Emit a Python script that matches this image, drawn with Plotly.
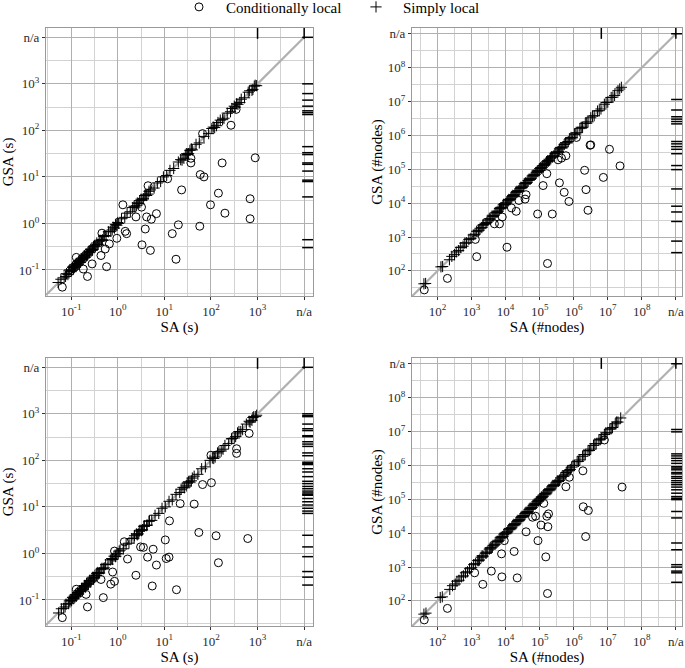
import numpy as np
import plotly.graph_objects as go
from plotly.subplots import make_subplots

# All values below are log10 of the measurement (the axes are log-log).
# "n/a" is drawn at one decade above the largest labelled decade.

# --- top-left: runtime ---------------------------------------------------
p1_cond_sa = [2.43, 2.95, 2.24, 1.57, 1.57, 1.77, 1.85, 1.37, 2.16, 2.84, 1.99, 2.30, 2.84, 1.76,
              1.30, 1.17, 1.25, 0.70, 0.52, 0.59, 0.62, 0.72, 0.83, 0.39, 0.11, 0.51, 0.65, 0.16,
              0.19, -0.02, -0.18, -0.27, -0.36, -0.24, -0.55, -0.65, -0.74, -1.19, -0.34, -0.89,
              1.07, 2.54, 1.82]
p1_cond_gsa = [2.11, 1.41, 1.30, 1.40, 1.30, 1.05, 1.00, 0.72, 0.65, 0.53, 0.40, 0.22, 0.10, -0.06,
               -0.03, -0.22, -0.77, -0.58, -0.46, -0.12, 0.14, 0.09, 0.21, 0.14, 0.40, 0.35, 0.81,
               -0.17, -0.22, -0.32, -0.44, -0.55, -0.69, -0.93, -0.87, -1.14, -0.98, -1.37, -0.21,
               -0.73, 0.96, 2.45, 1.93]
p1_simple_sa = [-1.28, -1.22, -1.15, -1.10, -1.07, -1.03, -1.00, -0.97, -0.95, -0.92, -0.90, -0.88,
                -0.85, -0.83, -0.80, -0.78, -0.75, -0.72, -0.70, -0.68, -0.65, -0.62, -0.60, -0.57,
                -0.55, -0.52, -0.48, -0.45, -0.42, -0.38, -0.35, -0.30, -0.25, -0.20, -0.15, -0.10,
                -0.07, -0.04, -0.02, 0.02, 0.08, 0.15, 0.20, 0.27, 0.32, 0.37, 0.42, 0.45, 0.50,
                0.55, 0.60, 0.65, 0.70, 0.78, 0.85, 0.92, 0.98, 1.05, 1.12, 1.20, 1.30, 1.38, 1.45,
                1.50, 1.55, 1.60, 1.68, 1.75, 1.85, 1.95, 2.05, 2.12, 2.20, 2.28, 2.35, 2.42, 2.50,
                2.58, 2.65, 2.72, 2.80, 2.88, 2.95,
                -1.12, -1.05, -0.99, -0.96, -0.93, -0.91, -0.87, -0.84, -0.81, -0.79, -0.76, -0.73,
                -0.71, -0.67, -0.64, -0.61, -0.58, -0.54, -0.50, -0.44, -0.40, -0.33, -0.28, -0.12,
                -0.05, 0.00, 0.35, 0.40, 0.47, 0.52, 0.58, 0.62, 0.67, 1.35, 1.42, 1.48, 1.52, 1.58,
                2.02, 2.08, 2.15, 2.25, 2.45, 2.52, 2.55, 2.62, 2.83, 2.90, 2.93, 2.98]
p1_simple_gsa = [-1.27, -1.20, -1.17, -1.08, -1.10, -1.00, -1.03, -0.95, -0.98, -0.90, -0.93, -0.86,
                 -0.88, -0.80, -0.83, -0.76, -0.78, -0.70, -0.73, -0.66, -0.68, -0.60, -0.62, -0.55,
                 -0.58, -0.50, -0.50, -0.42, -0.45, -0.36, -0.37, -0.28, -0.27, -0.18, -0.17, -0.08,
                 -0.10, -0.02, -0.04, 0.00, 0.10, 0.13, 0.22, 0.25, 0.34, 0.35, 0.44, 0.43, 0.52,
                 0.53, 0.61, 0.63, 0.72, 0.76, 0.87, 0.90, 1.00, 1.03, 1.14, 1.18, 1.32, 1.36, 1.47,
                 1.48, 1.57, 1.58, 1.70, 1.73, 1.87, 1.93, 2.07, 2.10, 2.22, 2.26, 2.37, 2.40, 2.52,
                 2.56, 2.67, 2.70, 2.82, 2.86, 2.97,
                 -1.14, -1.02, -1.01, -0.93, -0.95, -0.88, -0.90, -0.82, -0.84, -0.77, -0.74, -0.75,
                 -0.69, -0.70, -0.62, -0.63, -0.56, -0.56, -0.48, -0.46, -0.38, -0.35, -0.26, -0.14,
                 -0.03, 0.02, 0.37, 0.38, 0.49, 0.50, 0.60, 0.60, 0.69, 1.37, 1.40, 1.50, 1.50, 1.60,
                 2.04, 2.06, 2.17, 2.23, 2.47, 2.50, 2.57, 2.60, 2.85, 2.88, 2.95, 2.96]
p1_rug_gsa = [4.0, 3.0, 2.79, 2.65, 2.52, 2.42, 2.38, 2.34, 1.65, 1.52, 1.48, 1.30, 1.27, 1.125,
              0.93, 0.90, 0.57, -0.35, -0.52]
p1_rug_sa = [3.0, 4.0]

# --- top-right: #nodes ---------------------------------------------------
p2_cond_sa = [6.48, 6.50, 7.05, 7.36, 6.32, 6.87, 6.36, 6.42, 5.58, 5.72, 5.86, 5.37, 4.94, 5.10,
              5.21, 5.23, 4.60, 4.57, 4.39, 4.31, 4.17, 4.04, 3.90, 3.82, 3.67, 3.15, 3.11, 2.29,
              1.61, 5.77, 5.64, 6.08, 5.54]
p2_cond_gsa = [5.71, 5.72, 5.59, 5.10, 4.97, 4.76, 4.40, 3.79, 4.60, 4.32, 4.05, 3.68, 3.68, 4.52,
               4.87, 2.22, 4.25, 4.12, 4.08, 3.76, 3.86, 2.70, 3.59, 3.39, 3.39, 2.42, 2.93, 1.78,
               1.44, 5.40, 5.33, 5.94, 5.28]
p2_simple_sa = [1.60, 1.65, 2.10, 2.15, 2.35, 2.42, 2.50, 2.55, 2.62, 2.68, 2.75, 2.80, 2.85, 2.92,
                2.98, 3.05, 3.10, 3.15, 3.20, 3.25, 3.30, 3.36, 3.42, 3.48, 3.55, 3.60, 3.66, 3.72,
                3.78, 3.85, 3.90, 3.95, 4.00, 4.06, 4.12, 4.18, 4.24, 4.30, 4.36, 4.42, 4.48, 4.55,
                4.60, 4.66, 4.72, 4.78, 4.84, 4.90, 4.95, 5.00, 5.05, 5.10, 5.15, 5.20, 5.26, 5.32,
                5.38, 5.45, 5.52, 5.58, 5.65, 5.72, 5.80, 5.88, 5.95, 6.02, 6.10, 6.18, 6.26, 6.34,
                6.42, 6.50, 6.60, 6.70, 6.80, 6.90, 7.00, 7.10, 7.20, 7.30, 7.40,
                3.22, 3.33, 3.45, 3.52, 3.63, 3.69, 3.75, 3.82, 3.88, 3.93, 4.03, 4.09, 4.15, 4.21,
                4.27, 4.33, 4.39, 4.45, 4.52, 4.58, 4.63, 4.69, 4.75, 4.81, 4.87, 4.93, 4.98, 5.03,
                5.08, 5.13, 5.18, 5.23, 5.29, 5.35, 5.42, 5.48, 5.55, 5.62, 5.68, 5.76, 5.84, 5.92,
                6.06, 6.22, 6.38, 6.55, 6.75, 6.95, 7.15, 7.35]
p2_simple_gsa = [1.62, 1.63, 2.12, 2.13, 2.33, 2.43, 2.48, 2.56, 2.60, 2.69, 2.73, 2.82, 2.83, 2.93,
                 2.96, 3.06, 3.08, 3.17, 3.18, 3.26, 3.28, 3.37, 3.40, 3.50, 3.53, 3.62, 3.64, 3.73,
                 3.76, 3.86, 3.88, 3.97, 3.98, 4.07, 4.10, 4.19, 4.22, 4.32, 4.34, 4.43, 4.46, 4.57,
                 4.58, 4.67, 4.70, 4.80, 4.82, 4.91, 4.93, 5.02, 5.03, 5.11, 5.13, 5.22, 5.24, 5.33,
                 5.36, 5.47, 5.50, 5.60, 5.63, 5.73, 5.78, 5.90, 5.93, 6.04, 6.08, 6.20, 6.24, 6.36,
                 6.40, 6.52, 6.58, 6.72, 6.78, 6.92, 6.98, 7.12, 7.18, 7.32, 7.42,
                 3.20, 3.35, 3.43, 3.54, 3.61, 3.71, 3.73, 3.84, 3.86, 3.95, 4.01, 4.11, 4.13, 4.23,
                 4.25, 4.35, 4.37, 4.47, 4.50, 4.60, 4.61, 4.71, 4.73, 4.83, 4.85, 4.95, 4.96, 5.05,
                 5.06, 5.15, 5.16, 5.25, 5.27, 5.37, 5.40, 5.50, 5.53, 5.64, 5.66, 5.78, 5.82, 5.94,
                 6.04, 6.24, 6.36, 6.57, 6.73, 6.97, 7.13, 7.37]
p2_rug_gsa = [9.0, 7.06, 6.75, 6.55, 6.48, 6.41, 6.34, 5.82, 5.75, 5.67, 5.59, 5.46, 5.11, 4.99,
              4.42, 3.91, 3.74, 3.46, 2.88, 2.54]
p2_rug_sa = [6.81, 9.0]

# --- bottom-left: runtime ------------------------------------------------
p3_cond_sa = [2.82, 2.55, 2.55, 2.01, 1.82, 1.64, 1.34, 2.79, 2.11, 1.74, 2.16, 1.11, 1.02, 1.04,
              1.10, 0.83, 0.76, 0.64, 0.49, 0.55, 0.39, 0.74, 1.26, 0.21, 0.14, -0.07, -0.11,
              -0.07, -0.15, -0.36, -0.31, -0.65, -0.68, -1.19, -0.89, 2.00]
p3_cond_gsa = [2.58, 2.25, 2.15, 1.52, 1.48, 1.06, 1.07, 0.32, 0.38, 0.45, -0.20, 0.70, 0.29, -0.11,
               -0.08, -0.25, 0.09, -0.08, 0.14, 0.13, -0.47, -0.70, -0.78, -0.12, 0.25, 0.05,
               -0.40, -0.60, -0.66, -0.56, -0.95, -1.15, -0.88, -1.38, -0.77, 2.11]
p3_simple_sa = [-1.27, -1.21, -1.16, -1.11, -1.06, -1.02, -0.99, -0.96, -0.94, -0.91, -0.89, -0.86,
                -0.84, -0.82, -0.79, -0.77, -0.74, -0.71, -0.69, -0.66, -0.63, -0.61, -0.58, -0.55,
                -0.52, -0.49, -0.46, -0.43, -0.39, -0.36, -0.31, -0.26, -0.21, -0.16, -0.11, -0.08,
                -0.05, -0.02, 0.01, 0.05, 0.12, 0.18, 0.24, 0.30, 0.35, 0.40, 0.44, 0.48, 0.53,
                0.57, 0.62, 0.67, 0.73, 0.80, 0.88, 0.95, 1.02, 1.10, 1.17, 1.25, 1.33, 1.40, 1.47,
                1.52, 1.58, 1.64, 1.72, 1.80, 1.88, 1.98, 2.06, 2.14, 2.22, 2.30, 2.38, 2.45, 2.53,
                2.60, 2.68, 2.76, 2.84, 2.90, 2.96,
                -1.13, -1.04, -1.00, -0.97, -0.92, -0.90, -0.87, -0.83, -0.80, -0.78, -0.75, -0.72,
                -0.70, -0.67, -0.64, -0.60, -0.57, -0.53, -0.50, -0.45, -0.41, -0.34, -0.29, -0.13,
                -0.04, 0.03, 0.36, 0.42, 0.46, 0.51, 0.56, 0.63, 0.68, 1.36, 1.43, 1.49, 1.55, 1.60,
                2.03, 2.09, 2.17, 2.26, 2.44, 2.50, 2.57, 2.64, 2.82, 2.88, 2.92, 2.98]
p3_simple_gsa = [-1.28, -1.19, -1.18, -1.09, -1.08, -1.00, -1.01, -0.94, -0.97, -0.89, -0.92, -0.84,
                 -0.87, -0.80, -0.82, -0.75, -0.77, -0.69, -0.72, -0.64, -0.66, -0.59, -0.61, -0.53,
                 -0.55, -0.47, -0.48, -0.41, -0.42, -0.34, -0.33, -0.24, -0.23, -0.14, -0.13, -0.06,
                 -0.07, 0.00, -0.01, 0.07, 0.10, 0.20, 0.22, 0.32, 0.33, 0.42, 0.42, 0.50, 0.51,
                 0.59, 0.60, 0.69, 0.71, 0.82, 0.86, 0.97, 1.00, 1.12, 1.15, 1.27, 1.31, 1.42, 1.45,
                 1.54, 1.56, 1.66, 1.70, 1.82, 1.86, 2.00, 2.04, 2.16, 2.20, 2.32, 2.36, 2.47, 2.51,
                 2.62, 2.66, 2.78, 2.82, 2.92, 2.94,
                 -1.15, -1.02, -1.02, -0.95, -0.94, -0.88, -0.89, -0.81, -0.82, -0.76, -0.77, -0.70,
                 -0.72, -0.65, -0.66, -0.58, -0.59, -0.51, -0.52, -0.43, -0.43, -0.32, -0.31, -0.11,
                 -0.06, 0.05, 0.38, 0.40, 0.48, 0.49, 0.58, 0.61, 0.70, 1.38, 1.41, 1.51, 1.53, 1.62,
                 2.05, 2.07, 2.19, 2.24, 2.46, 2.48, 2.59, 2.62, 2.84, 2.86, 2.94, 2.97]
p3_rug_gsa = [4.0, 3.0, 2.96, 2.94, 2.78, 2.68, 2.64, 2.53, 2.51, 2.40, 2.35, 2.30, 2.16, 2.10,
              1.96, 1.93, 1.91, 1.82, 1.75, 1.65, 1.55, 1.50, 1.44, 1.39, 1.34, 1.30, 1.27, 1.25,
              1.18, 1.11, 1.04, 0.97, 0.91, 0.86, 0.39, 0.14, -0.07, -0.39, -0.51, -0.68]
p3_rug_sa = [3.0, 4.0]

# --- bottom-right: #nodes ------------------------------------------------
p4_cond_sa = [7.42, 6.27, 6.28, 6.43, 6.35, 5.77, 5.23, 5.18, 5.26, 5.21, 5.24, 5.04, 5.12, 4.95,
              4.88, 4.79, 4.60, 4.25, 4.34, 3.89, 3.88, 3.58, 3.33, 3.09, 2.29, 1.61, 6.90, 5.87,
              3.96]
p4_cond_gsa = [5.36, 5.84, 4.78, 4.67, 3.90, 5.37, 2.22, 3.30, 4.57, 4.50, 4.19, 4.24, 4.88, 3.78,
               4.50, 4.47, 4.04, 3.46, 2.68, 2.71, 3.39, 2.88, 2.49, 2.83, 1.78, 1.44, 6.75, 5.65,
               3.78]
p4_simple_sa = [1.60, 1.66, 2.08, 2.14, 2.36, 2.44, 2.52, 2.57, 2.63, 2.70, 2.76, 2.82, 2.88, 2.94,
                3.00, 3.06, 3.12, 3.18, 3.23, 3.28, 3.34, 3.40, 3.46, 3.52, 3.58, 3.63, 3.69, 3.75,
                3.81, 3.87, 3.92, 3.98, 4.03, 4.09, 4.15, 4.21, 4.27, 4.33, 4.39, 4.45, 4.51, 4.57,
                4.63, 4.69, 4.75, 4.81, 4.87, 4.92, 4.97, 5.02, 5.07, 5.12, 5.18, 5.24, 5.30, 5.36,
                5.42, 5.48, 5.55, 5.62, 5.70, 5.78, 5.86, 5.94, 6.02, 6.10, 6.18, 6.26, 6.34, 6.42,
                6.50, 6.58, 6.66, 6.74, 6.82, 6.90, 6.98, 7.06, 7.14, 7.22, 7.30, 7.38,
                3.21, 3.31, 3.43, 3.55, 3.61, 3.72, 3.78, 3.84, 3.90, 3.95, 4.06, 4.12, 4.18, 4.24,
                4.30, 4.36, 4.42, 4.48, 4.54, 4.60, 4.66, 4.72, 4.78, 4.84, 4.90, 4.95, 5.00, 5.05,
                5.10, 5.15, 5.21, 5.27, 5.33, 5.39, 5.45, 5.52, 5.58, 5.66, 5.74, 5.82, 5.90, 5.98,
                6.14, 6.30, 6.46, 6.62, 6.78, 6.94, 7.10, 7.26]
p4_simple_gsa = [1.61, 1.64, 2.10, 2.12, 2.34, 2.45, 2.50, 2.58, 2.61, 2.71, 2.74, 2.83, 2.86, 2.95,
                 2.98, 3.07, 3.10, 3.19, 3.21, 3.29, 3.32, 3.41, 3.44, 3.53, 3.56, 3.64, 3.67, 3.76,
                 3.79, 3.88, 3.90, 3.99, 4.01, 4.10, 4.13, 4.22, 4.25, 4.34, 4.37, 4.46, 4.49, 4.58,
                 4.61, 4.70, 4.73, 4.82, 4.85, 4.93, 4.95, 5.03, 5.05, 5.13, 5.16, 5.25, 5.28, 5.37,
                 5.40, 5.49, 5.53, 5.63, 5.68, 5.79, 5.84, 5.95, 6.00, 6.11, 6.16, 6.27, 6.32, 6.43,
                 6.48, 6.59, 6.64, 6.75, 6.80, 6.91, 6.96, 7.07, 7.12, 7.23, 7.28, 7.40,
                 3.19, 3.33, 3.41, 3.57, 3.59, 3.74, 3.76, 3.86, 3.88, 3.97, 4.04, 4.14, 4.16, 4.26,
                 4.28, 4.38, 4.40, 4.50, 4.52, 4.62, 4.64, 4.74, 4.76, 4.86, 4.88, 4.97, 4.98, 5.07,
                 5.08, 5.17, 5.19, 5.29, 5.31, 5.41, 5.43, 5.54, 5.56, 5.68, 5.72, 5.84, 5.88, 6.00,
                 6.12, 6.32, 6.44, 6.64, 6.76, 6.96, 7.08, 7.28]
p4_rug_gsa = [9.0, 7.06, 6.99, 6.34, 6.28, 6.21, 6.14, 6.06, 5.96, 5.92, 5.87, 5.79, 5.75, 5.67,
              5.62, 5.55, 5.49, 5.43, 5.36, 5.28, 5.18, 5.08, 5.03, 4.99, 4.64, 4.45, 3.71, 3.51,
              3.07, 3.00, 2.88, 2.83, 2.55]
p4_rug_sa = [6.81, 9.0]

# axis ticks
time_tickvals = [-1, 0, 1, 2, 3, 4]
time_ticktext = ["10<sup>-1</sup>", "10<sup>0</sup>", "10<sup>1</sup>", "10<sup>2</sup>",
                 "10<sup>3</sup>", "n/a"]
nodes_tickvals = [2, 3, 4, 5, 6, 7, 8, 9]
nodes_ticktext = ["10<sup>2</sup>", "10<sup>3</sup>", "10<sup>4</sup>", "10<sup>5</sup>",
                  "10<sup>6</sup>", "10<sup>7</sup>", "10<sup>8</sup>", "n/a"]

FONT = "Liberation Serif"
W, H = 685, 668

fig = make_subplots(rows=2, cols=2)


def ax_style(rng, tickvals, ticktext, title, standoff):
    minor = [v + 0.5 for v in range(int(np.floor(rng[0])) - 1, int(np.ceil(rng[1])))]
    return dict(
        type="log",
        range=rng,
        tickmode="array",
        tickvals=[10 ** v for v in tickvals],
        ticktext=ticktext,
        tickfont=dict(family=FONT, size=13, color="#2b2b2b"),
        ticks="outside", ticklen=3, tickwidth=1, tickcolor="#333333",
        showgrid=True, gridcolor="#b0b0b0", gridwidth=1.3,
        minor=dict(tickmode="array", tickvals=[10 ** v for v in minor],
                   showgrid=True, gridcolor="#d2d2d2", gridwidth=1, ticks=""),
        showline=True, linecolor="#9a9a9a", linewidth=1, mirror=True,
        zeroline=False,
        title=dict(text=title, font=dict(family=FONT, size=15, color="black"), standoff=standoff),
        automargin=False,
    )


def add_panel(row, col, cond, simple, rug_gsa, rug_sa, na, xr, yr, first):
    # rug marks sit just inside the right / top border
    rug_x = xr[1] - 0.017 * (xr[1] - xr[0])
    rug_y = yr[1] - 0.017 * (yr[1] - yr[0])
    diag = [10 ** xr[0], 10 ** na]
    fig.add_trace(go.Scatter(x=diag, y=diag, mode="lines",
                             line=dict(color="#b0b0b0", width=2.2),
                             showlegend=False, hoverinfo="skip"), row=row, col=col)
    fig.add_trace(go.Scatter(
        x=[10 ** v for v in cond[0]], y=[10 ** v for v in cond[1]], mode="markers",
        name="Conditionally local", legendgroup="c", showlegend=first,
        marker=dict(symbol="circle-open", size=8, color="black", line=dict(width=1, color="black")),
    ), row=row, col=col)
    fig.add_trace(go.Scatter(
        x=[10 ** v for v in simple[0]], y=[10 ** v for v in simple[1]], mode="markers",
        name="Simply local", legendgroup="s", showlegend=first,
        marker=dict(symbol="cross-thin-open", size=8, color="black", line=dict(width=1, color="black")),
    ), row=row, col=col)
    fig.add_trace(go.Scatter(
        x=[10 ** rug_x] * len(rug_gsa), y=[10 ** v for v in rug_gsa], mode="markers",
        showlegend=False, hoverinfo="skip",
        marker=dict(symbol="line-ew-open", size=9, color="black", line=dict(width=1.5, color="black")),
    ), row=row, col=col)
    fig.add_trace(go.Scatter(
        x=[10 ** v for v in rug_sa], y=[10 ** rug_y] * len(rug_sa), mode="markers",
        showlegend=False, hoverinfo="skip",
        marker=dict(symbol="line-ns-open", size=9, color="black", line=dict(width=1.5, color="black")),
    ), row=row, col=col)


time_xr, time_yr = [-1.54, 4.19], [-1.56, 4.20]
nodes_xr, nodes_yr = [1.25, 9.18], [1.26, 9.17]

add_panel(1, 1, (p1_cond_sa, p1_cond_gsa), (p1_simple_sa, p1_simple_gsa), p1_rug_gsa, p1_rug_sa,
          4, time_xr, time_yr, True)
add_panel(1, 2, (p2_cond_sa, p2_cond_gsa), (p2_simple_sa, p2_simple_gsa), p2_rug_gsa, p2_rug_sa,
          9, nodes_xr, nodes_yr, False)
add_panel(2, 1, (p3_cond_sa, p3_cond_gsa), (p3_simple_sa, p3_simple_gsa), p3_rug_gsa, p3_rug_sa,
          4, time_xr, time_yr, False)
add_panel(2, 2, (p4_cond_sa, p4_cond_gsa), (p4_simple_sa, p4_simple_gsa), p4_rug_gsa, p4_rug_sa,
          9, nodes_xr, nodes_yr, False)

col_x = [[46 / W, 313 / W], [412 / W, 682 / W]]
row_y = [[1 - 296 / H, 1 - 28 / H], [1 - 626 / H, 1 - 358 / H]]

for i, (r, c) in enumerate([(1, 1), (1, 2), (2, 1), (2, 2)]):
    n = "" if i == 0 else str(i + 1)
    if c == 1:
        xs = ax_style(time_xr, time_tickvals, time_ticktext, "SA (s)", 0)
        ys = ax_style(time_yr, time_tickvals, time_ticktext, "GSA (s)", 1)
    else:
        xs = ax_style(nodes_xr, nodes_tickvals, nodes_ticktext, "SA (#nodes)", 0)
        ys = ax_style(nodes_yr, nodes_tickvals, nodes_ticktext, "GSA (#nodes)", 1)
    xs["domain"] = col_x[c - 1]
    ys["domain"] = row_y[r - 1]
    fig.update_layout(**{"xaxis" + n: xs, "yaxis" + n: ys})

fig.update_layout(
    width=W, height=H,
    margin=dict(l=0, r=0, t=0, b=0, autoexpand=False),
    paper_bgcolor="white", plot_bgcolor="white",
    font=dict(family=FONT, size=15, color="black"),
    legend=dict(orientation="h", x=172 / W, xanchor="left", y=1.014, yanchor="top",
                font=dict(family=FONT, size=15), itemwidth=44,
                entrywidth=118, entrywidthmode="pixels",
                bgcolor="rgba(0,0,0,0)"),
)

# the page body has a default 8px margin; drop it so the figure sits at the window origin
fig.write_html("out.html", config={"displayModeBar": False},
               post_script="document.body.style.margin='0px';")
